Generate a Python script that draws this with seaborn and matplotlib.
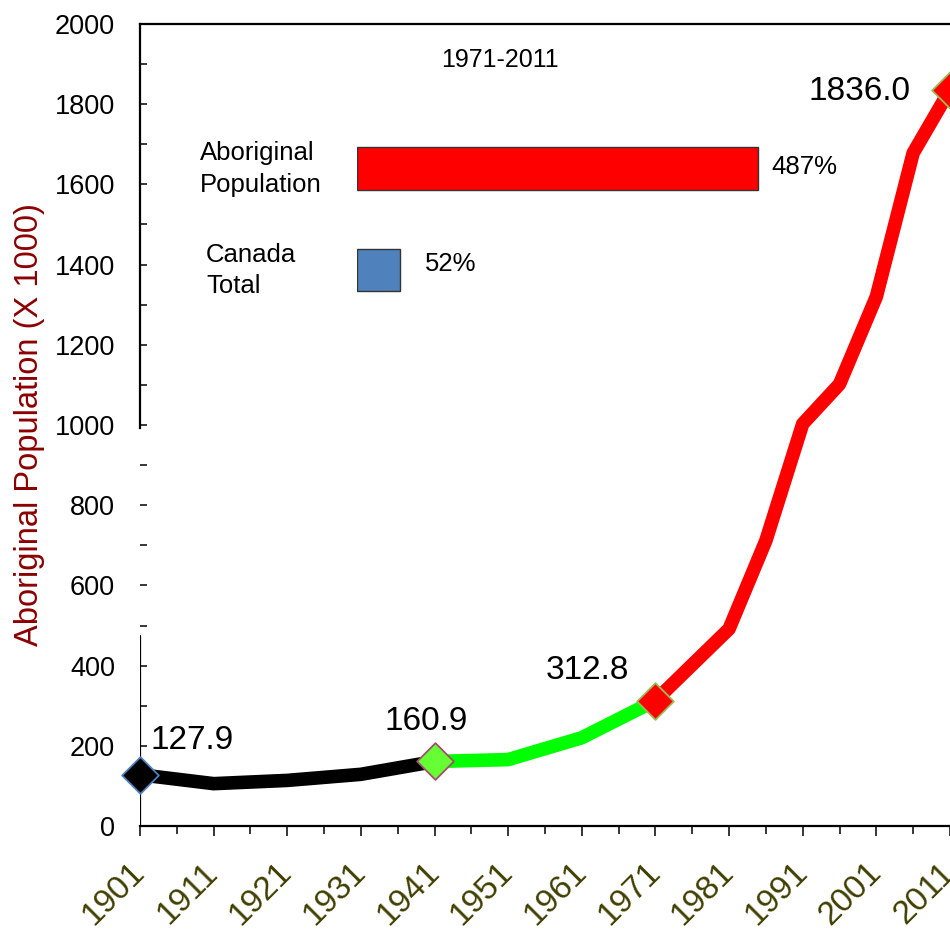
import numpy as np
import pandas as pd
import matplotlib
matplotlib.use("Agg")
import matplotlib.pyplot as plt
from matplotlib.ticker import MultipleLocator, FixedLocator
import seaborn as sns

# Census years and Aboriginal population (thousands)
years = [1901, 1911, 1921, 1931, 1941, 1951, 1961, 1971, 1981, 1986, 1991, 1996, 2001, 2006, 2011]
population = [127.9, 105.6, 113.7, 128.9, 160.9, 165.6, 220.1, 312.8, 491.5, 711.7,
              1002.7, 1101.9, 1319.9, 1678.2, 1836.0]

# Eras drawn in different colours (boundary years)
era_breaks = [1901, 1941, 1971, 2011]
era_colors = ["#000000", "#00FF00", "#FF0000"]

# Highlighted years with value labels
labelled_years = [1901, 1941, 1971, 2011]
marker_faces = ["#000000", "#66FF33", "#FF0000", "#FF0000"]
marker_edges = ["#4F81BD", "#A0506E", "#9BBB59", "#9BBB59"]

# Growth 1971-2011
growth_title = "1971-2011"
growth_groups = ["Aboriginal\nPopulation", "Canada\nTotal"]
growth_pct = [487, 52]
growth_colors = ["#FF0000", "#4F81BD"]

x_tick_years = list(range(1901, 2012, 10))

sns.set_theme(style="white")
plt.rcParams["font.family"] = ["Liberation Sans", "DejaVu Sans"]
plt.rcParams["text.color"] = "black"

W, H = 950, 931
fig = plt.figure(figsize=(W / 100, H / 100), dpi=100)
ax = fig.add_axes([140 / W, 105 / H, 883.6 / W, 802 / H])

df = pd.DataFrame({"year": years, "population": population})

# Coloured line segments for each era
for (start, end), color in zip(zip(era_breaks[:-1], era_breaks[1:]), era_colors):
    seg = df[(df["year"] >= start) & (df["year"] <= end)]
    sns.lineplot(data=seg, x="year", y="population", color=color, linewidth=9.8,
                 estimator=None, ax=ax, solid_joinstyle="round", solid_capstyle="butt",
                 zorder=3)

# Diamond markers and value labels
label_offsets = [(37.4, 24.5), (-5.8, 28.8), (-49.0, 21.6), (-64.8, -1.4)]
mk = df[df["year"].isin(labelled_years)].reset_index(drop=True)
for i, row in mk.iterrows():
    sns.scatterplot(x=[row["year"]], y=[row["population"]], marker="D", s=350,
                    color=marker_faces[i], edgecolor=marker_edges[i], linewidth=1.3,
                    ax=ax, zorder=5, clip_on=False)
    ax.annotate(f"{row['population']:.1f}", xy=(row["year"], row["population"]),
                xytext=label_offsets[i], textcoords="offset points",
                ha="center", va="center", fontsize=24, color="black")

ax.set_xlim(1901, 2021)
ax.set_ylim(0, 2000)

# Axes styling
ax.set_xticks(x_tick_years)
ax.set_xticklabels([str(y) for y in x_tick_years], rotation=45, ha="right", va="center",
                   rotation_mode="anchor", fontsize=24, color="#403F00")
ax.xaxis.set_minor_locator(FixedLocator(np.arange(1906, 2012, 10)))
ax.yaxis.set_major_locator(MultipleLocator(200))
ax.yaxis.set_minor_locator(MultipleLocator(100))
ax.tick_params(axis="x", which="major", direction="out", length=7.2, width=1.1,
               color="black", pad=23, bottom=True)
ax.tick_params(axis="x", which="minor", direction="out", length=5.8, width=1.1,
               color="black", bottom=True)
ax.tick_params(axis="y", which="both", direction="in", length=5.2, width=1.1,
               color="black", pad=18, left=True, labelsize=19.5, labelcolor="black")
ax.set_xlabel("")
ax.set_ylabel("Aboriginal Population (X 1000)", color="#8B0000", fontsize=23.5)
ax.yaxis.set_label_coords(-0.1075, 0.5)

for name in ["top", "bottom", "left", "right"]:
    ax.spines[name].set_color("black")
    ax.spines[name].set_linewidth(1.6)
ax.spines["left"].set_bounds(992, 2000)
ax.axvline(1901, ymin=0, ymax=474 / 2000, color="black", linewidth=1.6, zorder=2)

# Growth comparison bars
ax_in = fig.add_axes([357 / W, (H - 320.75) / H, 411.7 / W, 203 / H])
gdf = pd.DataFrame({"group": growth_groups, "pct": growth_pct})
sns.barplot(data=gdf, x="pct", y="group", hue="group", palette=growth_colors,
            saturation=1, width=0.42, edgecolor="#333333", linewidth=1,
            legend=False, orient="h", ax=ax_in)
ax_in.set_xlim(0, 500)
ax_in.set_ylim(1.5, -0.5)
ax_in.axis("off")

group_offsets = [(-113.0, -0.5), (-108.7, -0.5)]
pct_offsets = [(9.4, 1.0), (18.0, 4.3)]
for i, (g, v) in enumerate(zip(growth_groups, growth_pct)):
    ax_in.annotate(g, xy=(0, i), xytext=group_offsets[i], textcoords="offset points",
                   ha="left", va="center", fontsize=18.5, color="black", linespacing=1.4)
    ax_in.annotate(f"{v}%", xy=(v, i), xytext=pct_offsets[i], textcoords="offset points",
                   ha="left", va="center", fontsize=18.5, color="black")

fig.text(500 / W, 1 - 60 / H, growth_title, ha="center", va="center", fontsize=18,
         color="black")

fig.savefig("out.png", dpi=100)
